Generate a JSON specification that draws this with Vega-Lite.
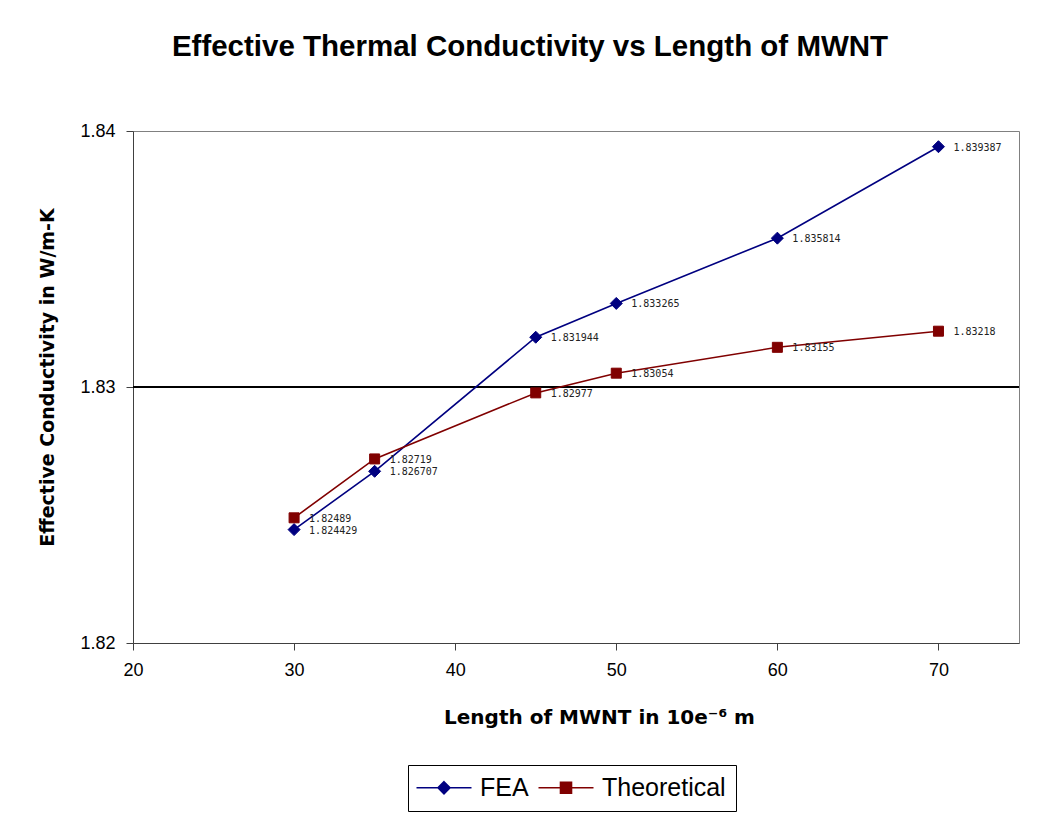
{
  "$schema": "https://vega.github.io/schema/vega-lite/v6.json",
  "autosize": "none",
  "width": 886,
  "height": 512,
  "padding": {"left": 133, "top": 131, "right": 26, "bottom": 173},
  "background": "white",
  "title": {
    "text": "Effective Thermal Conductivity vs Length of MWNT",
    "font": "Liberation Sans",
    "fontSize": 29.5,
    "fontWeight": "bold",
    "color": "black",
    "anchor": "middle",
    "frame": "group",
    "dx": -46,
    "offset": 60
  },
  "data": {
    "values": [
      {"length": 30, "value": 1.824429, "series": "FEA"},
      {"length": 35, "value": 1.826707, "series": "FEA"},
      {"length": 45, "value": 1.831944, "series": "FEA"},
      {"length": 50, "value": 1.833265, "series": "FEA"},
      {"length": 60, "value": 1.835814, "series": "FEA"},
      {"length": 70, "value": 1.839387, "series": "FEA"},
      {"length": 30, "value": 1.82489, "series": "Theoretical"},
      {"length": 35, "value": 1.82719, "series": "Theoretical"},
      {"length": 45, "value": 1.82977, "series": "Theoretical"},
      {"length": 50, "value": 1.83054, "series": "Theoretical"},
      {"length": 60, "value": 1.83155, "series": "Theoretical"},
      {"length": 70, "value": 1.83218, "series": "Theoretical"}
    ]
  },
  "encoding": {
    "x": {
      "field": "length",
      "type": "quantitative",
      "scale": {"domain": [20, 75], "nice": false, "zero": false},
      "axis": {
        "values": [20, 30, 40, 50, 60, 70],
        "labelFlush": false,
        "title": "Length of MWNT in 10e\u207b\u2076 m",
        "titleX": 466,
        "titleFontSize": 20,
        "titlePadding": 28
      }
    },
    "y": {
      "field": "value",
      "type": "quantitative",
      "scale": {"domain": [1.82, 1.84], "nice": false, "zero": false},
      "axis": {
        "values": [1.82, 1.83, 1.84],
        "format": ".2f",
        "title": "Effective Conductivity in W/m-K",
        "titleY": 246,
        "titlePadding": 22
      }
    }
  },
  "layer": [
    {
      "mark": {"type": "rule", "color": "black", "strokeWidth": 1},
      "encoding": {"y": {"datum": 1.83}, "x": null}
    },
    {
      "mark": {"type": "line", "strokeWidth": 1.6},
      "encoding": {
        "color": {
          "field": "series",
          "type": "nominal",
          "scale": {"domain": ["FEA", "Theoretical"], "range": ["#000080", "#800000"]},
          "legend": {
            "title": null,
            "orient": "none",
            "legendX": 275,
            "legendY": 634,
            "direction": "horizontal",
            "strokeColor": "black",
            "padding": 10,
            "columnPadding": 6,
            "labelOffset": 37,
            "symbolSize": 400,
            "labelFont": "Liberation Sans",
            "labelFontSize": 25,
            "labelColor": "black",
            "fillColor": "white",
            "encode": {
              "symbols": {
                "update": {
                  "shape": {"signal": "datum.value === 'FEA' ? 'M-1.4,0H4.1M1.35,-0.6L1.95,0L1.35,0.6L0.75,0Z' : 'M-1.4,0H4.1M0.8,-0.55H1.9V0.55H0.8Z'"},
                  "fill": {"signal": "datum.value === 'FEA' ? '#000080' : '#800000'"},
                  "stroke": {"signal": "datum.value === 'FEA' ? '#000080' : '#800000'"},
                  "strokeWidth": {"value": 1.6},
                  "opacity": {"value": 1}
                }
              }
            }
          }
        }
      }
    },
    {
      "transform": [{"filter": "datum.series === 'FEA'"}],
      "mark": {"type": "point", "shape": "diamond", "filled": true, "size": 144, "color": "#000080", "stroke": "#000080", "strokeWidth": 1, "opacity": 1}
    },
    {
      "transform": [{"filter": "datum.series === 'Theoretical'"}],
      "mark": {"type": "point", "shape": "square", "filled": true, "size": 100, "color": "#800000", "stroke": "#800000", "strokeWidth": 1, "opacity": 1}
    },
    {
      "mark": {"type": "text", "align": "left", "baseline": "middle", "dx": 15, "dy": 1, "font": "DejaVu Sans Mono", "fontSize": 10, "color": "#222222"},
      "encoding": {
        "text": {"field": "value", "type": "quantitative", "format": ".7~g"}
      }
    }
  ],
  "config": {
    "view": {"stroke": "#808080", "strokeWidth": 1},
    "axis": {
      "grid": false,
      "domainColor": "#404040",
      "domainWidth": 1,
      "tickColor": "#404040",
      "tickSize": 7,
      "labelFont": "Liberation Sans",
      "labelFontSize": 18,
      "labelColor": "black",
      "labelPadding": 11,
      "titleFont": "DejaVu Sans",
      "titleFontSize": 19,
      "titleFontWeight": "bold",
      "titleColor": "black"
    }
  }
}
